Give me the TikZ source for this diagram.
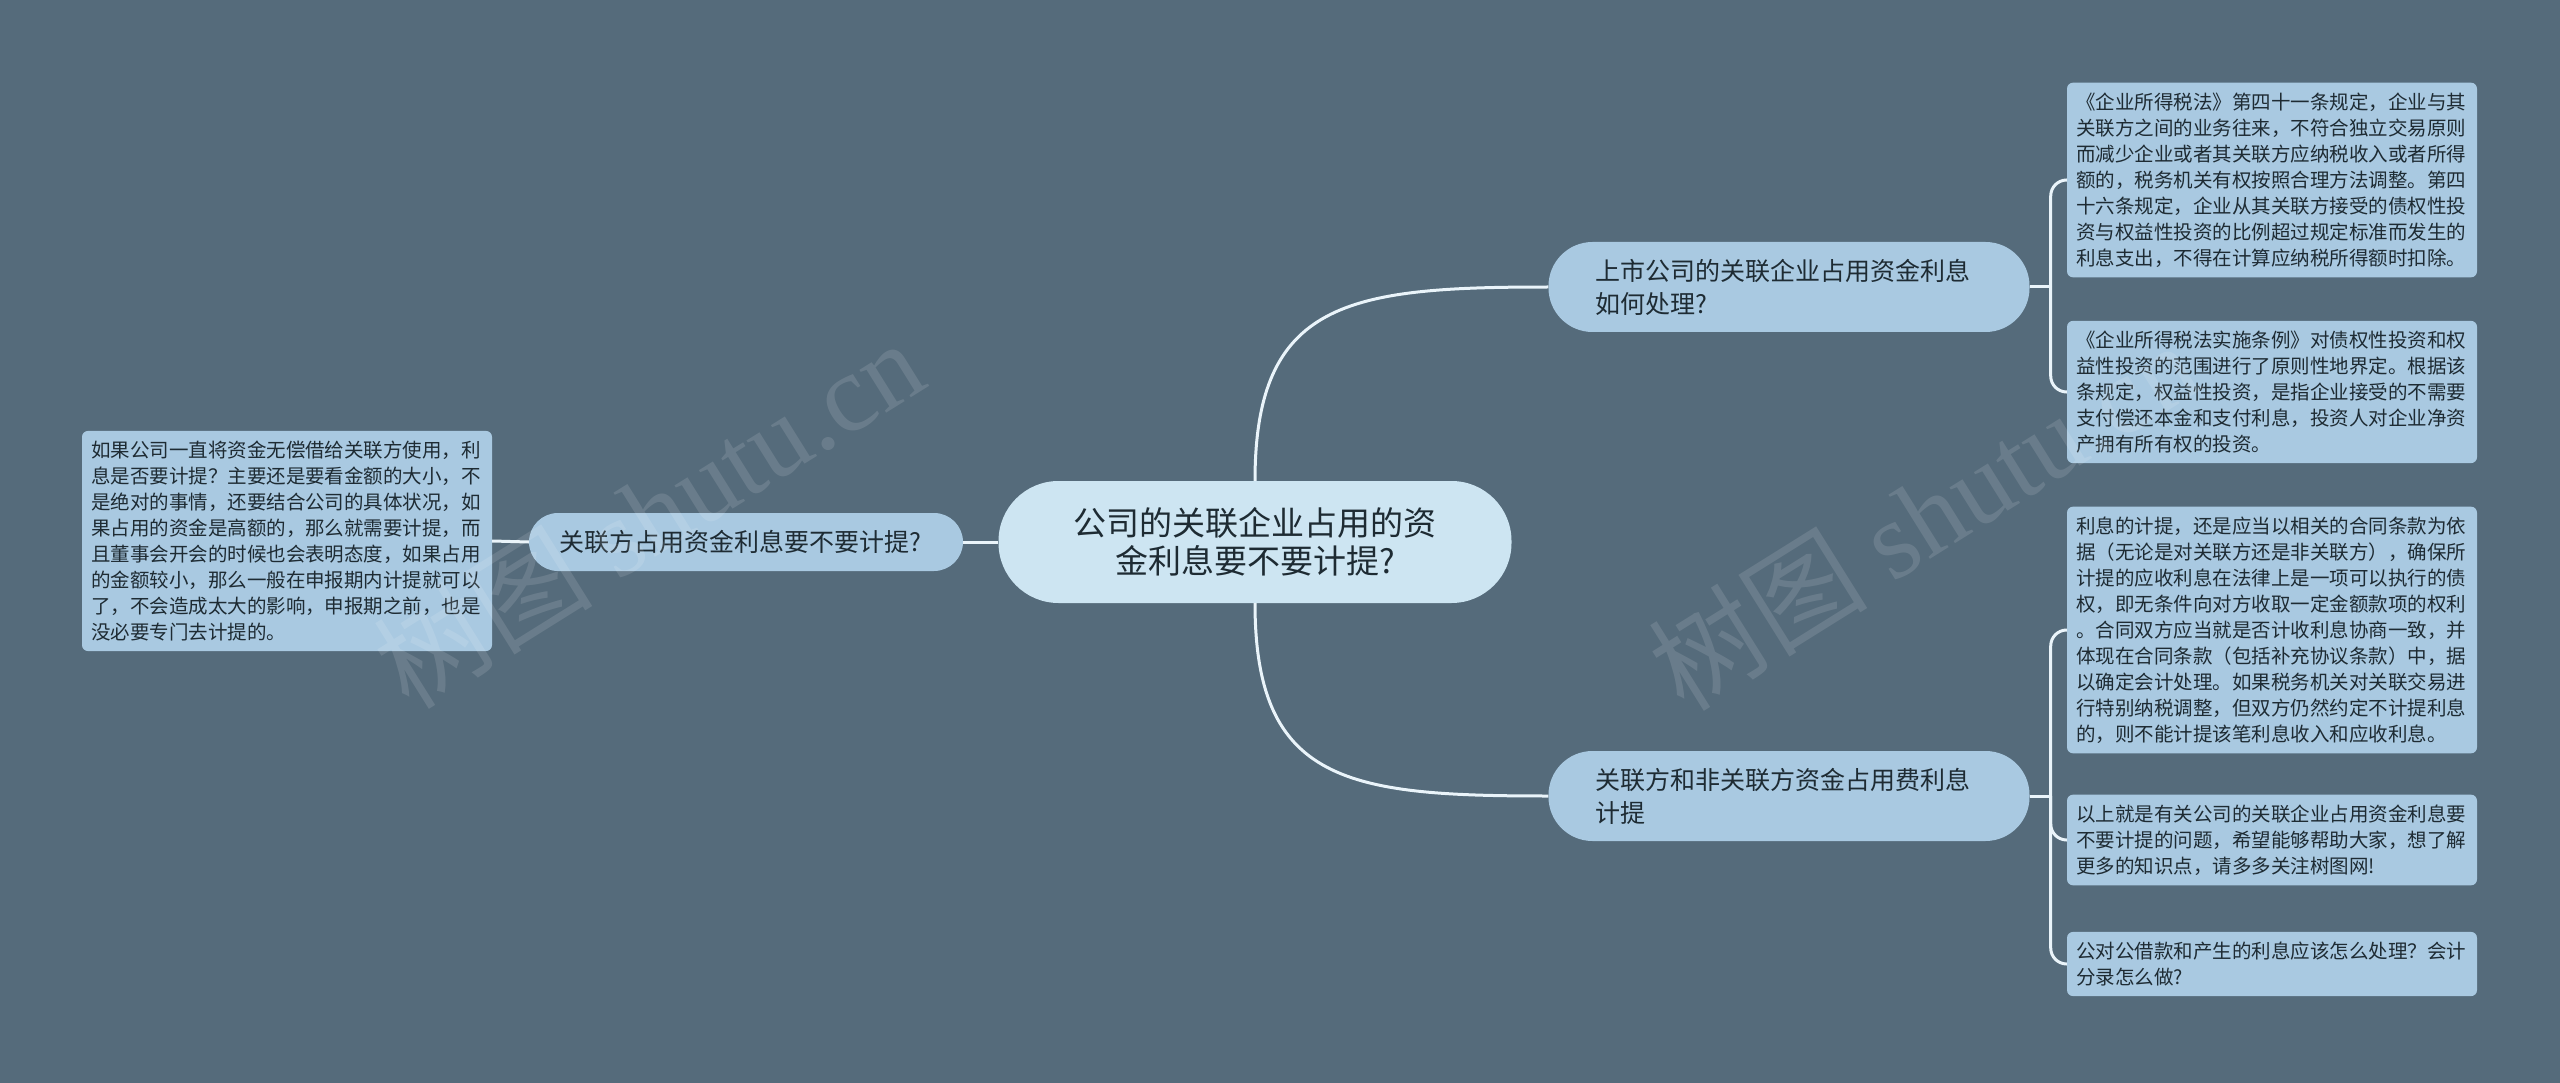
\documentclass[tikz,border=0pt]{standalone}
\usepackage{fontspec}
\setmainfont{Noto Sans CJK SC}
\newfontfamily\markfont{Liberation Serif}
\definecolor{bgslate}{HTML}{556B7B}
\definecolor{rootblue}{HTML}{CDE5F2}
\definecolor{nodeblue}{HTML}{A9C9E1}
\definecolor{linkwhite}{HTML}{EAF4FA}
\definecolor{inkdark}{HTML}{1E2B33}
\begin{document}
\begin{tikzpicture}[
        x = 1pt,
        y = -1pt,
        rootbox/.style = {fill = rootblue, rounded corners = 60pt, minimum width = 513pt, minimum height = 122pt, align = center, text = inkdark, font = \fontsize{33}{38}\selectfont},
        branchbox/.style = {fill = nodeblue, rounded corners = 44pt, minimum height = 90pt, align = left, text = inkdark, font = \fontsize{25}{33}\selectfont},
        leafbox/.style = {fill = nodeblue, rounded corners = 6pt, text width = 392pt, inner xsep = 9pt, inner ysep = 10pt, align = left, text = inkdark, font = \fontsize{19.5}{26}\selectfont},
        link/.style = {draw = linkwhite, line width = 3pt},
        fork/.style = {link, rounded corners = 16pt},
        watermark/.style = {text = white, text opacity = 0.12, font = \fontsize{110}{110}\selectfont}
    ]
        \useasboundingbox (0,0) rectangle (2560,1083);
        \fill[bgslate] (0,0) rectangle (2560,1083);

        \node[rootbox] (root) at (1255, 542) {公司的关联企业占用的资\\金利息要不要计提?};
        \node[branchbox, text width = 387pt, inner xsep = 47pt] (upper) at (1789, 287) {上市公司的关联企业占用资金利息\\如何处理?};
        \node[branchbox, text width = 387pt, inner xsep = 47pt] (lower) at (1789, 796) {关联方和非关联方资金占用费利息\\计提};
        \node[branchbox, minimum height = 58pt, rounded corners = 29pt, text width = 374pt, inner xsep = 30pt] (left) at (746, 542) {关联方占用资金利息要不要计提?};

        \node[leafbox] (leftleaf) at (287, 541) {如果公司一直将资金无偿借给关联方使用，利\\息是否要计提？主要还是要看金额的大小，不\\是绝对的事情，还要结合公司的具体状况，如\\果占用的资金是高额的，那么就需要计提，而\\且董事会开会的时候也会表明态度，如果占用\\的金额较小，那么一般在申报期内计提就可以\\了，不会造成太大的影响，申报期之前，也是\\没必要专门去计提的。};
        \node[leafbox] (taxlaw) at (2272, 180) {《企业所得税法》第四十一条规定，企业与其\\关联方之间的业务往来，不符合独立交易原则\\而减少企业或者其关联方应纳税收入或者所得\\额的，税务机关有权按照合理方法调整。第四\\十六条规定，企业从其关联方接受的债权性投\\资与权益性投资的比例超过规定标准而发生的\\利息支出，不得在计算应纳税所得额时扣除。};
        \node[leafbox] (taxrule) at (2272, 392) {《企业所得税法实施条例》对债权性投资和权\\益性投资的范围进行了原则性地界定。根据该\\条规定，权益性投资，是指企业接受的不需要\\支付偿还本金和支付利息，投资人对企业净资\\产拥有所有权的投资。};
        \node[leafbox] (contract) at (2272, 630) {利息的计提，还是应当以相关的合同条款为依\\据（无论是对关联方还是非关联方），确保所\\计提的应收利息在法律上是一项可以执行的债\\权，即无条件向对方收取一定金额款项的权利\\。合同双方应当就是否计收利息协商一致，并\\体现在合同条款（包括补充协议条款）中，据\\以确定会计处理。如果税务机关对关联交易进\\行特别纳税调整，但双方仍然约定不计提利息\\的，则不能计提该笔利息收入和应收利息。};
        \node[leafbox] (summary) at (2272, 840) {以上就是有关公司的关联企业占用资金利息要\\不要计提的问题，希望能够帮助大家，想了解\\更多的知识点，请多多关注树图网!};
        \node[leafbox] (related) at (2272, 964) {公对公借款和产生的利息应该怎么处理？会计\\分录怎么做?};

        \draw[link] (root.north) .. controls ++(0,-180) and ++(-200,0) .. (upper.west);
        \draw[link] (root.south) .. controls ++(0,180) and ++(-200,0) .. (lower.west);
        \draw[link] (root.west) -- (left.east);
        \draw[link] (left.west) -- (leftleaf.east);

        \coordinate (upfork) at ([xshift = 21pt] upper.east);
        \coordinate (lowfork) at ([xshift = 21pt] lower.east);
        \draw[link] (upper.east) -- (upfork);
        \draw[link] (lower.east) -- (lowfork);
        \draw[fork] (upfork) |- (taxlaw.west);
        \draw[fork] (upfork) |- (taxrule.west);
        \draw[fork] (lowfork) |- (contract.west);
        \draw[fork] (lowfork) |- (summary.west);
        \draw[fork] (lowfork) |- (related.west);

        \node[watermark, rotate = 32] (markleft) at (648, 513) {树图 {\markfont shutu.cn}};
        \node[watermark, rotate = 32] (markright) at (1923, 515) {树图 {\markfont shutu.cn}};
    \end{tikzpicture}
\end{document}
